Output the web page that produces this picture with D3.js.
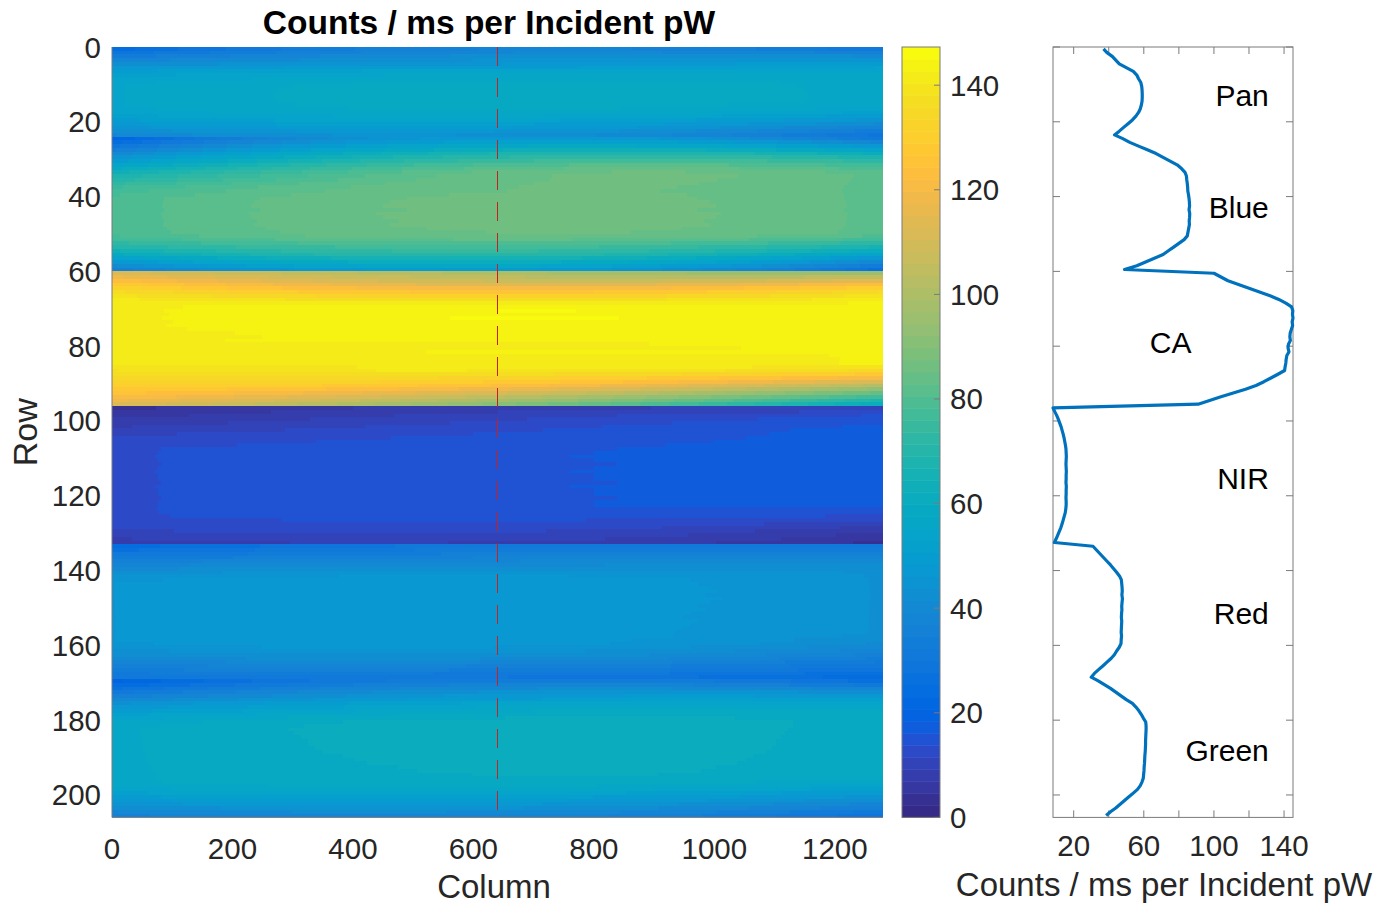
<!DOCTYPE html>
<html>
<head>
<meta charset="utf-8">
<script src="https://cdn.jsdelivr.net/npm/d3@7/dist/d3.min.js"></script>
<style>
  body { margin: 0; background: #fff; }
  svg { display: block; }
  text { font-family: "Liberation Sans", Arial, sans-serif; fill: #262626; }
</style>
</head>
<body>
<svg id="chart" width="1385" height="906"></svg>
<script>
// Detector response, counts / ms per incident pW, 206 rows x 1280 columns.
const nRows = 206;
const nCols = 1280;
const profileColumn = 640;

// Row profile along column 640 (rows 0..205), grouped by filter band.
const profileAt640 = [
  // Pan
  37, 39, 42, 44, 46, 50, 54, 56, 57, 58.3, 58.8, 59, 59.1, 59.1, 59, 58.6, 58, 57, 55.5, 53.5, 51, 48.5, 46, 43.3,
  // Blue
  48, 52, 57, 62, 67, 71, 75, 79, 81.5, 83.5, 84.3, 84.5, 84.8, 85, 85.1, 85.5, 85.8, 86, 86.1, 85.8,
  86.2, 86.1, 85.9, 86, 85.6, 85.2, 84.8, 83, 80, 77, 74, 71, 66, 61, 56, 49,
  // CA
  100, 104, 108, 114, 120, 126, 132, 137, 141, 144.3, 145, 144.8, 145.1, 144.6, 144.9, 144.2, 143.5, 143.3,
  143.6, 142.5, 142.3, 142.8, 141.6, 141.2, 141, 140.6, 140.3, 136.5, 132.5, 128.5, 124, 118, 111, 104, 97.5, 91,
  // NIR
  8.2, 9.2, 10.3, 11.2, 12, 12.8, 13.4, 14, 14.5, 14.9, 15.3, 15.6, 15.7, 15.8, 15.7, 15.6, 15.7, 15.8, 15.7,
  15.7, 15.6, 15.8, 15.7, 15.7, 15.6, 15.7, 15.7, 15.5, 15.2, 14.6, 14, 13.4, 12.7, 11.8, 10.9, 10, 9,
  // Red
  31, 33, 35, 37, 39, 41, 42.8, 44.6, 46.2, 47.2, 47.4, 47.6, 47.7, 47.5, 47.8, 47.6, 47.4, 47.5,
  47.3, 47.2, 47.4, 47.3, 47.2, 47.1, 47.3, 47.1, 47, 46, 44.5, 43.2, 41.3, 39, 36.6, 34.2, 31.8, 30,
  // Green
  34, 37.5, 41, 44, 47, 50, 53.5, 55.5, 57.2, 58.6, 59.8, 61.1, 61.3, 61.3, 61.2, 61.1, 61, 61, 60.9,
  60.8, 60.6, 60.5, 60.4, 60.2, 60.1, 59.9, 59.7, 59, 58, 56.4, 54, 51.5, 49, 46.5, 44, 41, 38.5
];

// Values along the first column (column 0).
const leftColumn = [
  24, 28, 33, 38, 43, 47, 50, 52, 53.5, 54.5, 55, 55, 55, 55, 55, 55, 54.5, 53.5, 52, 50, 47.5, 45, 42, 39,
  20, 24, 29, 34, 39, 44, 49, 54, 59, 63, 67, 70, 73, 75.5, 77, 78, 79, 79, 79, 79, 79, 79, 79, 79, 79, 79,
  78, 76, 73, 69, 64, 59, 53, 47, 41, 35,
  112, 118, 124, 129, 133, 136.5, 139, 141, 142, 142, 142, 142, 142, 142, 142, 142, 142,
  142, 142, 142, 142, 142, 142, 141.5, 140.5, 139.5, 138, 136.5, 134.5, 132.5, 130.5, 128, 125, 122, 118, 113,
  4, 5, 6, 7, 8, 9, 10, 11, 12, 12.5, 13, 13.5, 13.5, 13.5, 13.5, 13.5, 13.5, 13.5, 13.5, 13.5, 13.5,
  13.5, 13.5, 13.5, 13.5, 13.5, 13.5, 13.5, 13.5, 13.5, 13, 12.5, 12, 11, 10, 9, 8,
  24, 27, 30, 33, 36, 38.5, 41, 43, 44.5, 45.5, 46, 46, 46, 46, 46, 46, 46, 46, 46, 46, 46, 46, 46, 46, 46, 46,
  45.5, 44.5, 43, 41.5, 40, 38, 36, 34, 32, 30,
  20, 23, 27, 31, 35, 39, 43, 46.5, 49.5, 52, 54, 55.5, 56.5, 57, 57, 57, 57, 57, 57, 57, 57, 57, 57, 57, 57,
  57, 57, 57, 56, 54.5, 52.5, 50, 47.5, 45, 42, 39, 36
];

// Values along the last column (column 1279).
const rightColumn = [
  30, 35, 41, 46, 50, 53, 55, 56, 56.5, 56.5, 56.5, 56.5, 56.5, 56.5, 56.5, 55.5, 54, 52, 49, 45, 41, 37, 33, 29,
  30, 38, 46, 54, 61, 67, 72, 76, 79, 81, 82, 82, 82, 82, 82, 82, 82, 82, 82, 82, 82, 82, 82, 82, 82, 82,
  80, 77, 72, 66, 60, 53, 46, 39, 32, 26,
  95, 105, 115, 124, 131, 136, 139.5, 142, 143, 143, 143, 143, 143, 143, 143, 143, 143, 143, 143, 143, 143,
  143, 143, 143, 143, 140, 135, 128, 120, 111, 102, 93, 84, 76, 68, 60,
  10, 12, 14, 15, 16, 16.5, 17, 17, 17, 17, 17, 17, 17, 17, 17, 17, 17, 17, 17, 17, 17, 17, 17, 17, 17, 17, 17,
  16, 15, 13.5, 12, 10, 8.5, 7, 6, 5, 4,
  30, 33, 36, 38.5, 40.5, 42, 43, 43.5, 43.5, 43.5, 43.5, 43.5, 43.5, 43.5, 43.5, 43.5, 43.5, 43.5, 43.5,
  43.5, 43.5, 43.5, 43.5, 43.5, 43, 42, 41, 39.5, 38, 36, 34, 32, 30, 28, 26, 24,
  26, 31, 37, 42, 47, 51, 54, 56, 57.5, 58.5, 58.5, 58.5, 58.5, 58.5, 58.5, 58.5, 58.5, 58.5, 58.5, 58.5,
  58.5, 58.5, 58.5, 58.5, 58.5, 58.5, 57.5, 56, 54, 51.5, 48.5, 45, 41.5, 38, 34.5, 31, 28
];

const bandNames = ["Pan", "Blue", "CA", "NIR", "Red", "Green"];
const bandLabelRows = [13.1, 42.8, 78.9, 115.3, 151.6, 188];
const bandLabelValues = [131.3, 131.3, 75.3, 131.3, 131.3, 131.3];
const bandLabelAnchors = ["end", "end", "middle", "end", "end", "end"];

const colorLimits = [0, 147.3];
const columnTicks = [0, 200, 400, 600, 800, 1000, 1200];
const rowTicks = [0, 20, 40, 60, 80, 100, 120, 140, 160, 180, 200];
const colorbarTicks = [0, 20, 40, 60, 80, 100, 120, 140];
const profileTicks = [20, 40, 60, 80, 100, 120, 140];
const profileTickLabels = [20, 60, 100, 140];

// parula, 64 entries
const parula = [
  [0.2081,0.1663,0.5292],[0.2116,0.1898,0.5777],[0.2123,0.2138,0.6270],[0.2081,0.2386,0.6771],
  [0.1959,0.2645,0.7279],[0.1707,0.2919,0.7792],[0.1253,0.3242,0.8303],[0.0591,0.3598,0.8683],
  [0.0117,0.3875,0.8820],[0.0060,0.4086,0.8828],[0.0165,0.4266,0.8786],[0.0329,0.4430,0.8720],
  [0.0498,0.4586,0.8641],[0.0629,0.4737,0.8554],[0.0723,0.4887,0.8467],[0.0779,0.5040,0.8384],
  [0.0793,0.5200,0.8312],[0.0749,0.5375,0.8263],[0.0641,0.5570,0.8240],[0.0488,0.5772,0.8228],
  [0.0343,0.5966,0.8199],[0.0265,0.6137,0.8135],[0.0239,0.6287,0.8038],[0.0231,0.6418,0.7913],
  [0.0228,0.6535,0.7768],[0.0267,0.6642,0.7607],[0.0384,0.6743,0.7436],[0.0590,0.6838,0.7254],
  [0.0843,0.6928,0.7062],[0.1133,0.7015,0.6859],[0.1453,0.7098,0.6646],[0.1801,0.7177,0.6424],
  [0.2178,0.7250,0.6193],[0.2586,0.7317,0.5954],[0.3022,0.7376,0.5712],[0.3482,0.7424,0.5473],
  [0.3953,0.7459,0.5244],[0.4420,0.7481,0.5033],[0.4871,0.7491,0.4840],[0.5300,0.7491,0.4661],
  [0.5709,0.7485,0.4494],[0.6099,0.7473,0.4337],[0.6473,0.7456,0.4188],[0.6834,0.7435,0.4044],
  [0.7184,0.7411,0.3905],[0.7525,0.7384,0.3768],[0.7858,0.7356,0.3633],[0.8185,0.7327,0.3498],
  [0.8507,0.7299,0.3360],[0.8824,0.7274,0.3217],[0.9139,0.7258,0.3063],[0.9450,0.7261,0.2886],
  [0.9739,0.7314,0.2666],[0.9938,0.7455,0.2403],[0.9990,0.7653,0.2164],[0.9955,0.7861,0.1967],
  [0.9880,0.8066,0.1794],[0.9789,0.8271,0.1633],[0.9697,0.8481,0.1475],[0.9626,0.8705,0.1309],
  [0.9589,0.8949,0.1132],[0.9598,0.9218,0.0948],[0.9661,0.9514,0.0755],[0.9763,0.9831,0.0538]
].map(c => d3.rgb(c[0] * 255, c[1] * 255, c[2] * 255));

const svg = d3.select("#chart");
const axisGray = "#7a7a7a";
const tickFont = 29.5;
const labelFont = 33;

// ---------- image panel ----------
const x = d3.scaleLinear().domain([0, nCols]).range([112, 883]);
const y = d3.scaleLinear().domain([0, nRows]).range([47, 817.4]);
const color = d3.scaleQuantize().domain(colorLimits).range(d3.range(parula.length));

// Smooth variation across the sensor width through the three sampled columns.
function cellValue(r, c) {
  const t = (c + 0.5 - profileColumn) / profileColumn;
  const L = leftColumn[r], C = profileAt640[r], R = rightColumn[r];
  return C + (R - L) / 2 * t + ((R + L) / 2 - C) * t * t;
}

const canvas = document.createElement("canvas");
canvas.width = nCols;
canvas.height = nRows;
const ctx = canvas.getContext("2d");
const img = ctx.createImageData(nCols, nRows);
for (let r = 0; r < nRows; r++) {
  for (let c = 0; c < nCols; c++) {
    const col = parula[color(cellValue(r, c))];
    const k = (r * nCols + c) * 4;
    img.data[k] = col.r; img.data[k + 1] = col.g; img.data[k + 2] = col.b; img.data[k + 3] = 255;
  }
}
ctx.putImageData(img, 0, 0);

const imagePanel = svg.append("g");
imagePanel.append("image")
  .attr("href", canvas.toDataURL())
  .attr("x", x(0)).attr("y", y(0))
  .attr("width", x(nCols) - x(0)).attr("height", y(nRows) - y(0))
  .attr("preserveAspectRatio", "none")
  .style("image-rendering", "pixelated");

// column where the profile is taken
imagePanel.append("line")
  .attr("x1", x(profileColumn)).attr("x2", x(profileColumn))
  .attr("y1", y(0)).attr("y2", y(nRows))
  .attr("stroke", "#c8201e").attr("stroke-width", 1)
  .attr("stroke-dasharray", "19,12");

imagePanel.append("line").attr("x1", x(0)).attr("x2", x(0)).attr("y1", y(0)).attr("y2", y(nRows))
  .attr("stroke", axisGray);
imagePanel.append("line").attr("x1", x(0)).attr("x2", x(nCols)).attr("y1", y(nRows)).attr("y2", y(nRows))
  .attr("stroke", axisGray);

imagePanel.selectAll("text.xt").data(columnTicks).join("text")
  .attr("class", "xt")
  .attr("x", d => x(d)).attr("y", 859)
  .attr("text-anchor", "middle").attr("font-size", tickFont).text(d => d);
imagePanel.selectAll("text.yt").data(rowTicks).join("text")
  .attr("class", "yt")
  .attr("x", 101).attr("y", d => y(d) + 10.5)
  .attr("text-anchor", "end").attr("font-size", tickFont).text(d => d);

svg.append("text").attr("x", 494).attr("y", 898)
  .attr("text-anchor", "middle").attr("font-size", labelFont).text("Column");
svg.append("text").attr("transform", `translate(37,${(y(0) + y(nRows)) / 2}) rotate(-90)`)
  .attr("text-anchor", "middle").attr("font-size", 34).text("Row");
svg.append("text").attr("x", 489).attr("y", 34)
  .attr("text-anchor", "middle").attr("font-size", 33.5).attr("font-weight", "bold")
  .style("fill", "#000").text("Counts / ms per Incident pW");

// ---------- colorbar ----------
const cb = d3.scaleLinear().domain(colorLimits).range([817.4, 47]);
const cbLeft = 902, cbRight = 940;
const colorbar = svg.append("g");
const step = (colorLimits[1] - colorLimits[0]) / parula.length;
colorbar.selectAll("rect").data(parula).join("rect")
  .attr("x", cbLeft).attr("width", cbRight - cbLeft)
  .attr("y", (d, i) => cb(colorLimits[0] + (i + 1) * step))
  .attr("height", (d, i) => cb(colorLimits[0] + i * step) - cb(colorLimits[0] + (i + 1) * step) + 0.5)
  .attr("fill", d => d);
colorbar.append("rect").attr("x", cbLeft).attr("y", cb(colorLimits[1]))
  .attr("width", cbRight - cbLeft).attr("height", cb(colorLimits[0]) - cb(colorLimits[1]))
  .attr("fill", "none").attr("stroke", axisGray);
colorbar.selectAll("line.t").data(colorbarTicks).join("line").attr("class", "t")
  .attr("x1", cbRight - 6).attr("x2", cbRight).attr("y1", d => cb(d)).attr("y2", d => cb(d))
  .attr("stroke", axisGray);
colorbar.selectAll("text").data(colorbarTicks).join("text")
  .attr("x", 950).attr("y", d => cb(d) + 10.5).attr("font-size", tickFont).text(d => d);

// ---------- profile panel ----------
const px = d3.scaleLinear().domain(d3.extent(profileAt640)).range([1053, 1293]);
const py = d3.scaleLinear().domain([0, nRows]).range([47, 817.4]);
const prof = svg.append("g");
prof.append("rect").attr("x", px.range()[0]).attr("y", py(0))
  .attr("width", px.range()[1] - px.range()[0]).attr("height", py(nRows) - py(0))
  .attr("fill", "none").attr("stroke", axisGray);
const tickLen = 7;
prof.selectAll("line.bx").data(profileTicks).join("line").attr("class", "bx")
  .attr("x1", d => px(d)).attr("x2", d => px(d)).attr("y1", py(nRows)).attr("y2", py(nRows) - tickLen)
  .attr("stroke", axisGray);
prof.selectAll("line.tx").data(profileTicks).join("line").attr("class", "tx")
  .attr("x1", d => px(d)).attr("x2", d => px(d)).attr("y1", py(0)).attr("y2", py(0) + tickLen)
  .attr("stroke", axisGray);
prof.selectAll("line.ly").data(rowTicks).join("line").attr("class", "ly")
  .attr("x1", px.range()[0]).attr("x2", px.range()[0] + tickLen).attr("y1", d => py(d)).attr("y2", d => py(d))
  .attr("stroke", axisGray);
prof.selectAll("line.ry").data(rowTicks).join("line").attr("class", "ry")
  .attr("x1", px.range()[1]).attr("x2", px.range()[1] - tickLen).attr("y1", d => py(d)).attr("y2", d => py(d))
  .attr("stroke", axisGray);
prof.selectAll("text.pt").data(profileTickLabels).join("text").attr("class", "pt")
  .attr("x", d => px(d)).attr("y", 856).attr("text-anchor", "middle").attr("font-size", tickFont).text(d => d);
svg.append("text").attr("x", 1164).attr("y", 896)
  .attr("text-anchor", "middle").attr("font-size", labelFont).text("Counts / ms per Incident pW");

prof.append("path")
  .datum(profileAt640)
  .attr("d", d3.line().x(d => px(d)).y((d, i) => py(i + 0.5)))
  .attr("fill", "none").attr("stroke", "#0072BD").attr("stroke-width", 3.2)
  .attr("stroke-linejoin", "round");

prof.selectAll("text.band").data(bandNames).join("text").attr("class", "band")
  .attr("x", (d, i) => px(bandLabelValues[i]))
  .attr("y", (d, i) => py(bandLabelRows[i]) + 10.5)
  .attr("text-anchor", (d, i) => bandLabelAnchors[i])
  .attr("font-size", 30).style("fill", "#000").text(d => d);
</script>
</body>
</html>
